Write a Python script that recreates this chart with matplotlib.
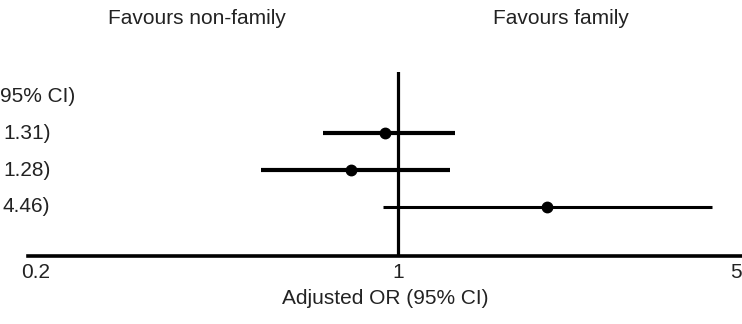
import matplotlib
matplotlib.use("Agg")
import matplotlib.pyplot as plt
import matplotlib.transforms as mtransforms

plt.rcParams['font.family'] = ['Liberation Sans', 'DejaVu Sans']

# odds ratios with 95% CI, top row first
row_labels = ["1.31)", "1.28)", "4.46)"]
or_est = [0.94, 0.80, 2.03]
ci_low = [0.70, 0.52, 0.93]
ci_high = [1.31, 1.28, 4.46]
line_w = [3.0, 3.0, 2.2]
header = "95% CI)"
tick_vals = [0.2, 1, 5]
tick_text = ["0.2", "1", "5"]

W, H = 742, 324
FS = 15
TXT = '#222222'
fig = plt.figure(figsize=(W / 100, H / 100), dpi=100)
ax = fig.add_axes([28 / W, 68 / H, 1 - 28 / W, 184 / H])

ax.set_xscale('log')
ax.set_xlim(0.1717, 5.15)
ax.set_ylim(-0.324, 4.649)

ypos = [3, 2, 1]
for y, m, lo, hi, lw in zip(ypos, or_est, ci_low, ci_high, line_w):
    ax.plot([lo, hi], [y, y], color='black', lw=lw, solid_capstyle='butt')
    ax.plot(m, y, 'o', color='black', ms=7.5)

ax.axvline(1, color='black', lw=2.3)

for s in ['top', 'right', 'left']:
    ax.spines[s].set_visible(False)
ax.spines['bottom'].set_linewidth(2.6)
ax.set_yticks([])
ax.set_xticks(tick_vals)
ax.set_xticklabels(tick_text)
ax.xaxis.set_minor_locator(matplotlib.ticker.NullLocator())
ax.tick_params(axis='x', length=0, pad=5, labelsize=FS, colors=TXT)
ax.set_xlabel("Adjusted OR (95% CI)", fontsize=FS, color=TXT, labelpad=5)

# the 0.2 label sits a little left of its tick
lab0 = ax.get_xticklabels()[0]
lab0.set_transform(lab0.get_transform() + mtransforms.ScaledTranslation(-0.24, 0, fig.dpi_scale_trans))

# labels on the left edge, row by row
fig.text(0, 1 - 97 / H, header, fontsize=FS, color=TXT, va='center', ha='left')
for y, lab in zip(ypos, row_labels):
    ty = 1 - (207 - (y - 1) * 37) / H
    fig.text(0.004, ty, lab, fontsize=FS, color=TXT, va='center', ha='left')

fig.text(197 / W, 1 - 18 / H, "Favours non-family", fontsize=FS, color=TXT, ha='center', va='center')
fig.text(561 / W, 1 - 18 / H, "Favours family", fontsize=FS, color=TXT, ha='center', va='center')

fig.savefig("out.png", dpi=100)
